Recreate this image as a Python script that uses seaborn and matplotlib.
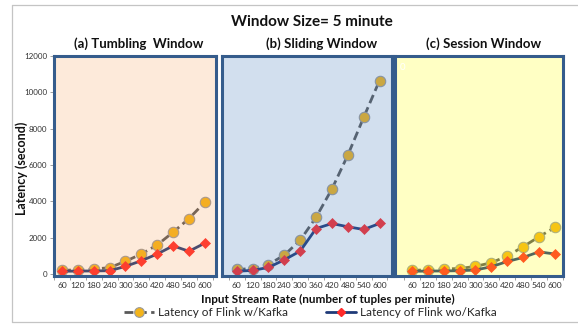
import matplotlib
matplotlib.use("Agg")
import matplotlib.pyplot as plt
from matplotlib.lines import Line2D
from matplotlib.patches import Rectangle
import numpy as np
import pandas as pd
import seaborn as sns

# Input stream rates (tuples per minute)
rates = [60, 120, 180, 240, 300, 360, 420, 480, 540, 600]

# Latency (seconds), window size = 5 minute
tumbling_with_kafka = [200, 230, 270, 350, 700, 1100, 1600, 2300, 3050, 3950]
tumbling_without_kafka = [150, 160, 170, 180, 420, 730, 1100, 1550, 1250, 1700]
sliding_with_kafka = [250, 300, 520, 1040, 1860, 3120, 4680, 6540, 8620, 10650]
sliding_without_kafka = [150, 200, 360, 780, 1260, 2500, 2780, 2600, 2450, 2780]
session_with_kafka = [200, 230, 280, 300, 420, 620, 990, 1500, 2050, 2560]
session_without_kafka = [150, 160, 170, 180, 220, 400, 690, 910, 1220, 1100]

panel_titles = ["(a) Tumbling  Window", "(b) Sliding Window", "(c) Session Window"]
y_ticks = [0, 2000, 4000, 6000, 8000, 10000, 12000]
series_names = ["Latency of Flink w/Kafka", "Latency of Flink wo/Kafka"]

panels = [
    (tumbling_with_kafka, tumbling_without_kafka),
    (sliding_with_kafka, sliding_without_kafka),
    (session_with_kafka, session_without_kafka),
]

sns.set_theme(style="white")
plt.rcParams["font.family"] = ["Lato", "DejaVu Sans"]

W, H = 578, 325
fig = plt.figure(figsize=(W / 100, H / 100), dpi=100)


def px_axes(x0, y0, x1, y1):
    return fig.add_axes([x0 / W, 1 - y1 / H, (x1 - x0) / W, (y1 - y0) / H])


boxes = [(54, 56, 216, 276), (222, 56, 392, 276), (395, 56, 563, 276)]
first_tick_px = [62, 236.7, 412]
spacing = 15.87
tints = [("#F79646", 0.20), ("#4F81BD", 0.25), ("#FFFF00", 0.23)]
border = "#355C8C"

DASH_COLOR = "#595959"
CIRCLE_FACE = "#F4B41A"
CIRCLE_EDGE = "#9A9A9A"
SOLID_COLOR = "#1F3A78"
DIAMOND = "#FF2A2A"

axes = []
for i, ((with_k, without_k), box) in enumerate(zip(panels, boxes)):
    ax = px_axes(*box)
    axes.append(ax)
    ax.set_facecolor("white")
    df = pd.DataFrame({
        "pos": np.arange(len(rates)),
        "with": with_k,
        "without": without_k,
    })
    sns.lineplot(data=df, x="pos", y="with", ax=ax, color=DASH_COLOR,
                 linewidth=2.0, marker="o", markersize=7.5,
                 markerfacecolor=CIRCLE_FACE, markeredgecolor=CIRCLE_EDGE,
                 markeredgewidth=0.8, zorder=2)
    ax.lines[-1].set_dashes((3.2, 1.6))
    sns.lineplot(data=df, x="pos", y="without", ax=ax, color=SOLID_COLOR,
                 linewidth=2.0, marker="D", markersize=4.6,
                 markerfacecolor=DIAMOND, markeredgecolor=DIAMOND,
                 markeredgewidth=0.5, zorder=2.2)

    # translucent tint over the plot area
    col, alpha = tints[i]
    ax.add_patch(Rectangle((0, 0), 1, 1, transform=ax.transAxes,
                           facecolor=col, alpha=alpha, edgecolor="none",
                           zorder=3))

    x0, _, x1, _ = box
    left = (x0 - first_tick_px[i]) / spacing
    right = (x1 - first_tick_px[i]) / spacing
    ax.set_xlim(left, right)
    ax.set_ylim(-110, 12000)

    ax.set_xticks(np.arange(len(rates)))
    ax.set_xticklabels([str(r) for r in rates])
    ax.set_xticks(np.arange(-0.5, len(rates), 1.0), minor=True)
    ax.tick_params(axis="x", which="major", length=0, pad=4,
                   labelsize=6, labelcolor="#333333")
    ax.tick_params(axis="x", which="minor", length=3, width=0.7,
                   color="#A0A0A0", direction="out", bottom=True)

    if i == 0:
        ax.set_yticks(y_ticks)
        ax.set_yticklabels([str(t) for t in y_ticks])
        ax.tick_params(axis="y", length=3, width=0.7, color="#A0A0A0",
                       direction="out", left=True, pad=2,
                       labelsize=5.8, labelcolor="#333333")
    else:
        ax.set_yticks([])

    ax.set_xlabel("")
    ax.set_ylabel("")
    for s in ax.spines.values():
        s.set_color(border)
        s.set_linewidth(2.2)
        s.set_zorder(4)

    cx = [139, 322, 484][i]
    fig.text(cx / W, 1 - 44 / H, panel_titles[i], ha="center", va="center",
             fontsize=9.5, fontweight="bold", color="#111111")

fig.text(312 / W, 1 - 22 / H, "Window Size= 5 minute", ha="center",
         va="center", fontsize=11, fontweight="bold", color="#111111")
fig.text(403 / W, 1 - 67 / H, "0", ha="center", va="center", fontsize=7,
         color="white")

fig.text(22 / W, 1 - 168 / H, "Latency (second)", rotation=90, ha="center",
         va="center", fontsize=9, fontweight="bold", color="#111111")
fig.text(328 / W, 1 - 299 / H,
         "Input Stream Rate (number of tuples per minute)", ha="center",
         va="center", fontsize=8.5, fontweight="bold", color="#111111")

handles = [
    Line2D([], [], color=DASH_COLOR, linewidth=2.0, dashes=(3.2, 1.6),
           marker="o", markersize=7, markerfacecolor=CIRCLE_FACE,
           markeredgecolor=CIRCLE_EDGE, markeredgewidth=0.8),
    Line2D([], [], color=SOLID_COLOR, linewidth=2.0, marker="D",
           markersize=4, markerfacecolor=DIAMOND, markeredgecolor=DIAMOND),
]
fig.legend(handles, series_names, loc="center", ncol=2, frameon=False,
           bbox_to_anchor=(310 / W, 1 - 313 / H), fontsize=8.5,
           handlelength=2.6, columnspacing=3.2, handletextpad=0.3)

# light sheet frame around the chart
frame_kw = dict(color="#C4C4C4", linewidth=0.9, transform=fig.transFigure)
fig.add_artist(Line2D([12 / W, 12 / W], [1 - 5 / H, 1 - 322 / H], **frame_kw))
fig.add_artist(Line2D([12 / W, 1], [1 - 5 / H, 1 - 5 / H], **frame_kw))
fig.add_artist(Line2D([12 / W, 1], [1 - 322 / H, 1 - 322 / H], **frame_kw))

fig.savefig("out.png", dpi=100)
